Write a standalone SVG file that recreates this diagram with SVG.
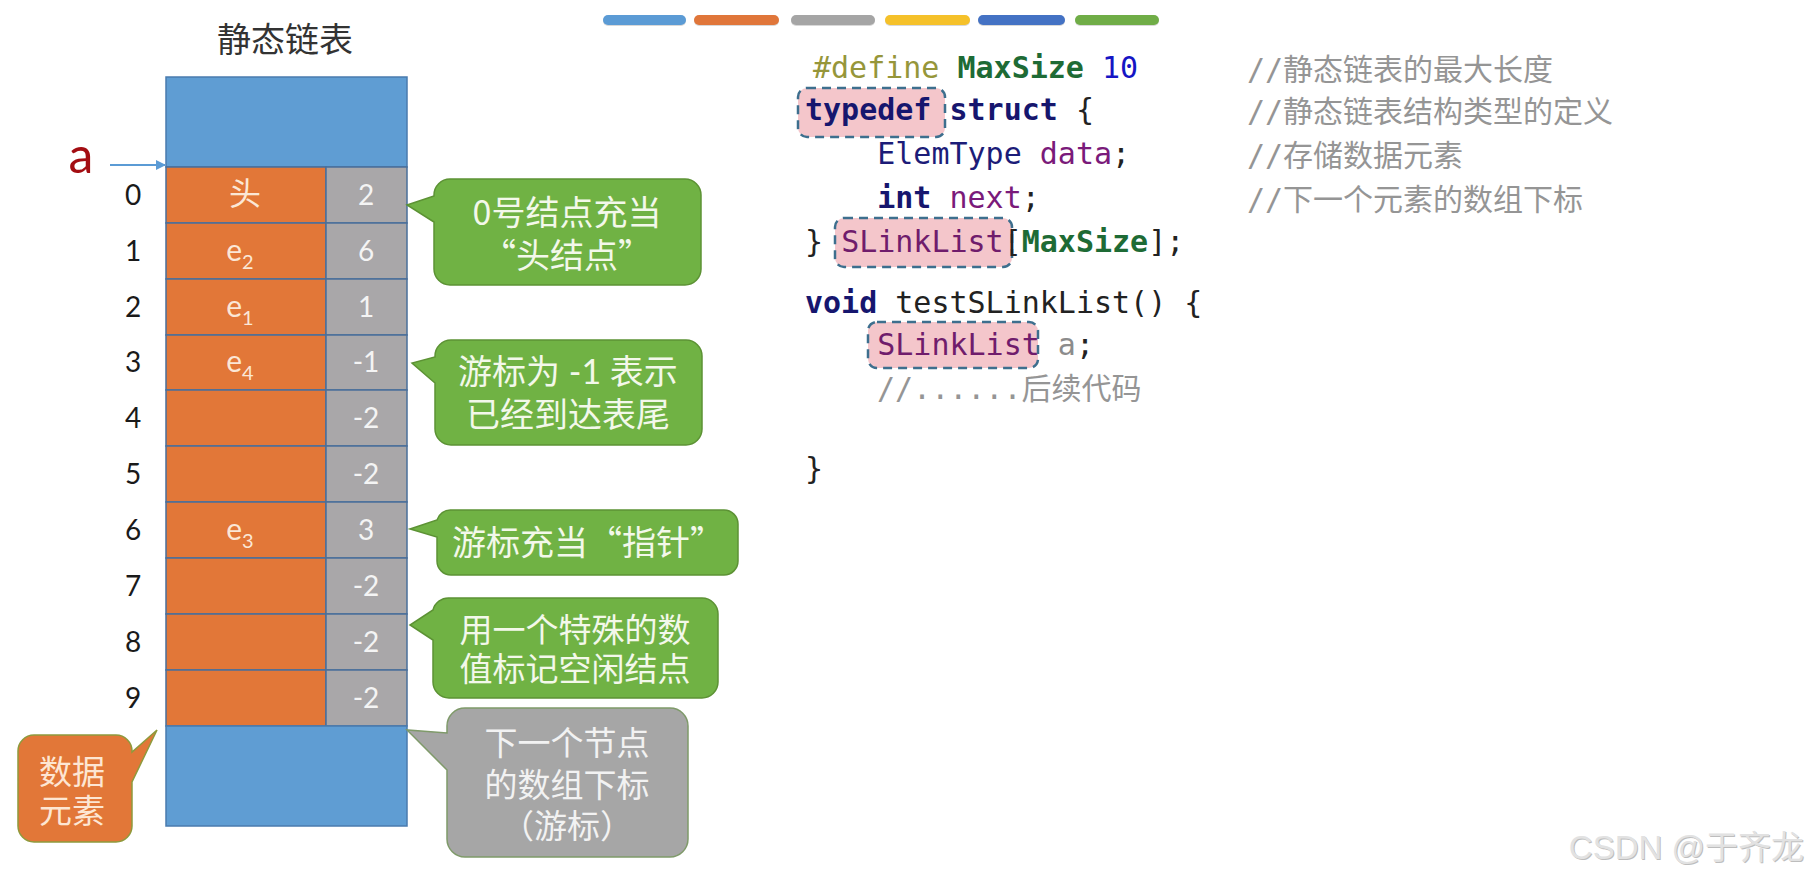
<svg xmlns="http://www.w3.org/2000/svg" width="1808" height="876" viewBox="0 0 1808 876">
<style>
.bg{fill:#ffffff}
.blue{fill:#5f9dd3;stroke:#4a7bae;stroke-width:1.5}
.org{fill:#e27738;stroke:#4a6f9a;stroke-width:1.5}
.gry{fill:#a9a7a9;stroke:#4a6f9a;stroke-width:1.5}
.idx{font-family:Lato,"Noto Sans CJK SC",sans-serif;font-size:28px;fill:#1a1a1a;text-anchor:middle}
.cellt{font-family:Lato,"Noto Sans CJK SC",sans-serif;font-size:30px;fill:#fbe7d6;text-anchor:middle}
.num{font-family:Lato,"Noto Sans CJK SC",sans-serif;font-size:28px;fill:#f4f4f4;text-anchor:middle}
.sub{font-size:20px}
.title{font-family:"Noto Sans CJK SC",sans-serif;font-size:34px;fill:#333333;text-anchor:middle}
.co-g{fill:#70b244;stroke:#5c9234;stroke-width:1.5}
.co-gray{fill:#a6a6a6;stroke:#7f9a6a;stroke-width:1.5}
.co-o{fill:#e27738;stroke:#8e9a3c;stroke-width:1.5}
.cot{font-family:Lato,"Noto Sans CJK SC",sans-serif;font-size:34px;fill:#f3f8ea;text-anchor:middle}
.cotq{font-family:"Noto Sans CJK SC",sans-serif;font-size:34px;fill:#f3f8ea;text-anchor:middle}
.cot-w{font-family:"Noto Sans CJK SC",sans-serif;font-size:33px;fill:#f2f2f2;text-anchor:middle}
.cot-o{font-family:"Noto Sans CJK SC",sans-serif;font-size:33px;fill:#fde6d3;text-anchor:middle}
.code{font-family:"DejaVu Sans Mono","Noto Sans CJK SC",monospace;font-size:30px;fill:#222222}
.cmt{font-family:"DejaVu Sans Mono","Noto Sans CJK SC",monospace;font-size:30px;fill:#959595}
.kw{fill:#16166e;font-weight:bold}
.mac{fill:#1e6b35;font-weight:bold}
.pp{fill:#96963a}
.numc{fill:#1515c4}
.typ{fill:#1c1c78}
.fld{fill:#7a1a7a}
.sl{fill:#701c6c}
.var{fill:#8c8c8c}
.hl{fill:#f4c6cb;stroke:#3d6f8e;stroke-width:2.5;stroke-dasharray:9 6}
.bar{stroke-width:10;stroke-linecap:round}
.wm{font-family:"Liberation Sans","Noto Sans CJK SC",sans-serif;font-size:33px;text-anchor:end}
</style>
<defs>
<marker id="arr" viewBox="0 0 10 10" refX="9" refY="5" markerWidth="10" markerHeight="10" markerUnits="userSpaceOnUse" orient="auto">
<path d="M0,0 L10,5 L0,10 Z" fill="#5b9bd5"/>
</marker>
</defs>
<rect class="bg" x="0" y="0" width="1808" height="876"/>

<g id="color-bars">
<line class="bar" x1="608" y1="21" x2="681" y2="21" stroke="#d8d8d8"/>
<line class="bar" x1="608" y1="20" x2="681" y2="20" stroke="#5b9bd5"/>
<line class="bar" x1="699" y1="21" x2="774" y2="21" stroke="#d8d8d8"/>
<line class="bar" x1="699" y1="20" x2="774" y2="20" stroke="#e0763a"/>
<line class="bar" x1="796" y1="21" x2="870" y2="21" stroke="#d8d8d8"/>
<line class="bar" x1="796" y1="20" x2="870" y2="20" stroke="#a5a5a5"/>
<line class="bar" x1="890" y1="21" x2="965" y2="21" stroke="#d8d8d8"/>
<line class="bar" x1="890" y1="20" x2="965" y2="20" stroke="#f5c12a"/>
<line class="bar" x1="983" y1="21" x2="1060" y2="21" stroke="#d8d8d8"/>
<line class="bar" x1="983" y1="20" x2="1060" y2="20" stroke="#4472c4"/>
<line class="bar" x1="1080" y1="21" x2="1154" y2="21" stroke="#d8d8d8"/>
<line class="bar" x1="1080" y1="20" x2="1154" y2="20" stroke="#70ad47"/>
</g>

<g id="title">
<text class="title" x="285" y="52">静态链表</text>
</g>

<g id="table">
<rect class="blue" x="166" y="77" width="241" height="90"/>
<rect class="org" x="166" y="167" width="160" height="56"/>
<rect class="gry" x="326" y="167" width="81" height="56"/>
<rect class="org" x="166" y="223" width="160" height="56"/>
<rect class="gry" x="326" y="223" width="81" height="56"/>
<rect class="org" x="166" y="279" width="160" height="56"/>
<rect class="gry" x="326" y="279" width="81" height="56"/>
<rect class="org" x="166" y="335" width="160" height="55"/>
<rect class="gry" x="326" y="335" width="81" height="55"/>
<rect class="org" x="166" y="390" width="160" height="56"/>
<rect class="gry" x="326" y="390" width="81" height="56"/>
<rect class="org" x="166" y="446" width="160" height="56"/>
<rect class="gry" x="326" y="446" width="81" height="56"/>
<rect class="org" x="166" y="502" width="160" height="56"/>
<rect class="gry" x="326" y="502" width="81" height="56"/>
<rect class="org" x="166" y="558" width="160" height="56"/>
<rect class="gry" x="326" y="558" width="81" height="56"/>
<rect class="org" x="166" y="614" width="160" height="56"/>
<rect class="gry" x="326" y="614" width="81" height="56"/>
<rect class="org" x="166" y="670" width="160" height="56"/>
<rect class="gry" x="326" y="670" width="81" height="56"/>
<rect class="blue" x="166" y="726" width="241" height="100"/>

<text class="cellt" x="245" y="205" style="font-size:32px">头</text>
<text class="cellt" x="240" y="261">e<tspan class="sub" dy="8">2</tspan></text>
<text class="cellt" x="240" y="317">e<tspan class="sub" dy="8">1</tspan></text>
<text class="cellt" x="240" y="372">e<tspan class="sub" dy="8">4</tspan></text>
<text class="cellt" x="240" y="540">e<tspan class="sub" dy="8">3</tspan></text>

<text class="num" x="366" y="205">2</text>
<text class="num" x="366" y="261">6</text>
<text class="num" x="366" y="317">1</text>
<text class="num" x="366" y="372">-1</text>
<text class="num" x="366" y="428">-2</text>
<text class="num" x="366" y="484">-2</text>
<text class="num" x="366" y="540">3</text>
<text class="num" x="366" y="596">-2</text>
<text class="num" x="366" y="652">-2</text>
<text class="num" x="366" y="708">-2</text>
</g>

<g id="indices">
<text class="idx" x="133" y="205">0</text>
<text class="idx" x="133" y="261">1</text>
<text class="idx" x="133" y="317">2</text>
<text class="idx" x="133" y="372">3</text>
<text class="idx" x="133" y="428">4</text>
<text class="idx" x="133" y="484">5</text>
<text class="idx" x="133" y="540">6</text>
<text class="idx" x="133" y="596">7</text>
<text class="idx" x="133" y="652">8</text>
<text class="idx" x="133" y="708">9</text>
</g>

<g id="pointer-a">
<text x="81" y="173" style="font-family:Lato,sans-serif;font-size:50px;fill:#a30d12;text-anchor:middle">a</text>
</g>

<g id="connectors">
<line x1="110" y1="165" x2="165" y2="165" stroke="#5b9bd5" stroke-width="1.8" marker-end="url(#arr)"/>
</g>

<g id="callout-head">
<path class="co-g" d="M450,179 H685 A16,16 0 0 1 701,195 V269 A16,16 0 0 1 685,285 H450 A16,16 0 0 1 434,269 V222 L407,205 L434,196 V195 A16,16 0 0 1 450,179 Z"/>
<text class="cotq" x="567" y="225">0号结点充当</text>
<text class="cotq" x="567" y="268">“头结点”</text>
</g>

<g id="callout-tail">
<path class="co-g" d="M451,340 H686 A16,16 0 0 1 702,356 V429 A16,16 0 0 1 686,445 H451 A16,16 0 0 1 435,429 V383 L412,363 L435,357 V356 A16,16 0 0 1 451,340 Z"/>
<text class="cot" x="568" y="384">游标为 -1 表示</text>
<text class="cot" x="568" y="427">已经到达表尾</text>
</g>

<g id="callout-pointer">
<path class="co-g" d="M451,510 H724 A14,14 0 0 1 738,524 V561 A14,14 0 0 1 724,575 H451 A14,14 0 0 1 437,561 V537 L410,529 L437,520 A14,14 0 0 1 451,510 Z"/>
<text class="cotq" x="588" y="555">游标充当“指针”</text>
</g>

<g id="callout-free">
<path class="co-g" d="M449,598 H702 A16,16 0 0 1 718,614 V682 A16,16 0 0 1 702,698 H449 A16,16 0 0 1 433,682 V640 L410,625 L433,610 A16,16 0 0 1 449,598 Z"/>
<text class="cotq" x="575" y="642" style="font-size:33px">用一个特殊的数</text>
<text class="cotq" x="575" y="681" style="font-size:33px">值标记空闲结点</text>
</g>

<g id="callout-next">
<path class="co-gray" d="M465,708 H670 A18,18 0 0 1 688,726 V839 A18,18 0 0 1 670,857 H465 A18,18 0 0 1 447,839 V770 L407,730 L447,733 V726 A18,18 0 0 1 465,708 Z"/>
<text class="cot-w" x="567" y="755">下一个节点</text>
<text class="cot-w" x="567" y="797">的数组下标</text>
<text class="cot-w" x="567" y="838">（游标）</text>
</g>

<g id="callout-data">
<path class="co-o" d="M34,735 H116 A16,16 0 0 1 132,751 V752 L157,730 L132,782 V826 A16,16 0 0 1 116,842 H34 A16,16 0 0 1 18,826 V751 A16,16 0 0 1 34,735 Z"/>
<text class="cot-o" x="72" y="784">数据</text>
<text class="cot-o" x="72" y="823">元素</text>
</g>

<g id="code">
<rect class="hl" x="798" y="88" width="147" height="49" rx="9"/>
<rect class="hl" x="835" y="218" width="177" height="49" rx="9"/>
<rect class="hl" x="868" y="322" width="170" height="46" rx="9"/>

<text class="code" x="813" y="78" xml:space="preserve"><tspan class="pp">#define</tspan> <tspan class="mac">MaxSize</tspan> <tspan class="numc">10</tspan></text>
<text class="code" x="805" y="120" xml:space="preserve"><tspan class="kw">typedef</tspan> <tspan class="kw">struct</tspan> {</text>
<text class="code" x="805" y="164" xml:space="preserve">    <tspan class="typ">ElemType</tspan> <tspan class="fld">data</tspan>;</text>
<text class="code" x="805" y="208" xml:space="preserve">    <tspan class="kw">int</tspan> <tspan class="fld">next</tspan>;</text>
<text class="code" x="805" y="252" xml:space="preserve">} <tspan class="sl">SLinkList</tspan>[<tspan class="mac">MaxSize</tspan>];</text>
<text class="code" x="805" y="313" xml:space="preserve"><tspan class="kw">void</tspan> testSLinkList() {</text>
<text class="code" x="805" y="355" xml:space="preserve">    <tspan class="sl">SLinkList</tspan><tspan class="var"> a</tspan>;</text>
<text class="cmt" x="877" y="399">//......后续代码</text>
<text class="code" x="805" y="479">}</text>

<text class="cmt" x="1247" y="80">//静态链表的最大长度</text>
<text class="cmt" x="1247" y="122">//静态链表结构类型的定义</text>
<text class="cmt" x="1247" y="166">//存储数据元素</text>
<text class="cmt" x="1247" y="210">//下一个元素的数组下标</text>
</g>

<g id="watermark">
<text class="wm" x="1805" y="860" fill="#bdbdbd">CSDN @于齐龙</text>
<text class="wm" x="1804" y="859" fill="#e2e2e2">CSDN @于齐龙</text>
</g>
</svg>
